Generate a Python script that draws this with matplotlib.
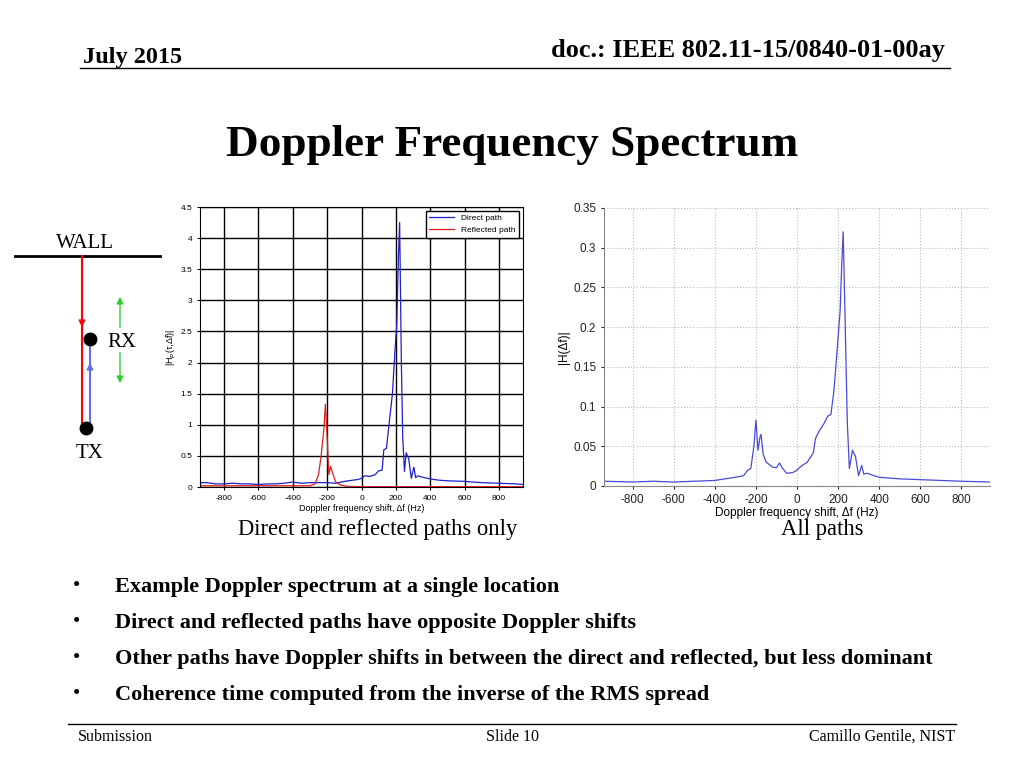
import matplotlib
matplotlib.use('Agg')
import matplotlib.pyplot as plt
from matplotlib.lines import Line2D
from matplotlib.patches import FancyArrowPatch

# Left chart: direct / reflected path spectra
direct_f = [-940, -900, -850, -800, -750, -700, -650, -600, -550, -500, -450, -400, -350, -300,
            -250, -200, -150, -100, -50, -20, 0, 20, 50, 80, 100, 120, 130, 145, 160, 180, 195,
            205, 215, 222, 232, 240, 250, 260, 275, 290, 305, 315, 330, 350, 400, 450, 500, 600,
            700, 800, 900, 940]
direct_h = [0.07, 0.07, 0.05, 0.05, 0.06, 0.05, 0.05, 0.04, 0.05, 0.05, 0.06, 0.08, 0.06, 0.07,
            0.07, 0.07, 0.06, 0.09, 0.11, 0.12, 0.14, 0.18, 0.17, 0.20, 0.26, 0.27, 0.60, 0.62,
            1.0, 1.5, 2.2, 2.6, 3.7, 4.25, 2.0, 0.8, 0.25, 0.55, 0.45, 0.14, 0.32, 0.15, 0.18,
            0.16, 0.13, 0.11, 0.10, 0.09, 0.07, 0.06, 0.05, 0.04]
refl_f = [-940, -600, -300, -270, -250, -235, -220, -210, -200, -190, -180, -165, -150, -120,
          -80, 0, 940]
refl_h = [0.02, 0.02, 0.02, 0.05, 0.2, 0.5, 0.9, 1.33, 0.8, 0.2, 0.33, 0.2, 0.08, 0.03, 0.01,
          0.005, 0.005]

# Right chart: all paths
all_f = [-940, -800, -700, -600, -500, -400, -300, -260, -240, -225, -210, -200, -190, -180,
         -175, -165, -150, -120, -100, -85, -70, -50, -20, 0, 20, 50, 80, 90, 110, 130, 150,
         165, 180, 195, 210, 218, 225, 235, 245, 255, 270, 285, 300, 315, 325, 340, 400, 500,
         600, 700, 800, 940]
all_h = [0.006, 0.005, 0.006, 0.005, 0.006, 0.007, 0.011, 0.013, 0.02, 0.022, 0.05, 0.083,
         0.045, 0.062, 0.065, 0.04, 0.03, 0.024, 0.023, 0.029, 0.022, 0.016, 0.017, 0.02, 0.025,
         0.03, 0.042, 0.06, 0.07, 0.078, 0.088, 0.09, 0.12, 0.17, 0.22, 0.28, 0.32, 0.2, 0.08,
         0.022, 0.045, 0.037, 0.013, 0.026, 0.015, 0.016, 0.011, 0.009, 0.008, 0.007, 0.006,
         0.005]

x_ticks = [-800, -600, -400, -200, 0, 200, 400, 600, 800]
bullets = ['Example Doppler spectrum at a single location',
           'Direct and reflected paths have opposite Doppler shifts',
           'Other paths have Doppler shifts in between the direct and reflected, but less dominant',
           'Coherence time computed from the inverse of the RMS spread']

plt.rcParams['axes.unicode_minus'] = False
plt.rcParams['font.family'] = 'Liberation Sans'
serif = 'Liberation Serif'
fig = plt.figure(figsize=(10.24, 7.68), dpi=100)
W, H = 1024, 768


def px(x, y):
    return x / W, 1 - y / H


# header / footer
fig.text(*px(83, 58), 'July 2015', fontfamily=serif, fontweight='bold', fontsize=17.5, va='center')
fig.text(*px(945, 50), 'doc.: IEEE 802.11-15/0840-01-00ay', fontfamily=serif, fontweight='bold',
         fontsize=19, ha='right', va='center')
fig.add_artist(Line2D([80 / W, 950 / W], [1 - 68 / H] * 2, color='black', lw=1))
fig.text(*px(512, 145), 'Doppler Frequency Spectrum', fontfamily=serif, fontweight='bold',
         fontsize=32.5, ha='center', va='center')
fig.add_artist(Line2D([68 / W, 956 / W], [1 - 724 / H] * 2, color='black', lw=1))
fig.text(*px(78, 737), 'Submission', fontfamily=serif, fontsize=11.5, va='center')
fig.text(*px(512, 737), 'Slide 10', fontfamily=serif, fontsize=11.5, ha='center', va='center')
fig.text(*px(955, 737), 'Camillo Gentile, NIST', fontfamily=serif, fontsize=11.5, ha='right', va='center')

# bullets
for i, b in enumerate(bullets):
    y = 587 + i * 36
    fig.text(*px(73, y), '\u2022', fontfamily=serif, fontsize=15, va='center')
    fig.text(*px(115, y), b, fontfamily=serif, fontweight='bold', fontsize=16, va='center')

fig.text(*px(378, 530), 'Direct and reflected paths only', fontfamily=serif, fontsize=16.3,
         ha='center', va='center')
fig.text(*px(822, 530), 'All paths', fontfamily=serif, fontsize=16.3, ha='center', va='center')

# scene diagram
fig.text(*px(85, 243), 'WALL', fontfamily=serif, fontsize=15, ha='center', va='center')
fig.add_artist(Line2D([15 / W, 160 / W], [1 - 256 / H] * 2, color='black', lw=2))
fig.add_artist(Line2D([82 / W, 82 / W], [1 - 256 / H, 1 - 428 / H], color='red', lw=1.5))
fig.add_artist(Line2D([90 / W, 90 / W], [1 - 340 / H, 1 - 428 / H], color='#6070e0', lw=1.5))
for (x0, y0, x1, y1, c) in [(82, 290, 82, 330, 'red'), (90, 400, 90, 360, '#6070e0'),
                            (120, 330, 120, 294, '#33cc33'), (120, 350, 120, 386, '#33cc33')]:
    fig.patches.append(FancyArrowPatch(px(x0, y0), px(x1, y1), arrowstyle='-|>',
                       mutation_scale=10, color=c, transform=fig.transFigure))
fig.add_artist(Line2D([90 / W], [1 - 339 / H], marker='o', color='black', ms=9))
fig.add_artist(Line2D([86 / W], [1 - 428 / H], marker='o', color='black', ms=9))
fig.text(*px(107, 343), 'RX', fontfamily=serif, fontsize=15, va='center')
fig.text(*px(90, 453), 'TX', fontfamily=serif, fontsize=15, ha='center', va='center')

# left chart
ax1 = fig.add_axes([200 / W, 1 - 487 / H, 323 / W, 280 / H])
ax1.plot(direct_f, direct_h, color='#1f1fcc', lw=0.9, label='Direct path')
ax1.plot(refl_f, refl_h, color='#e01f1f', lw=0.9, label='Reflected path')
ax1.set_xlim(-940, 940)
ax1.set_ylim(0, 4.5)
ax1.set_xticks(x_ticks)
ax1.set_yticks([0, 0.5, 1, 1.5, 2, 2.5, 3, 3.5, 4, 4.5])
ax1.set_yticklabels(['0', '0.5', '1', '1.5', '2', '2.5', '3', '3.5', '4', '4.5'])
ax1.grid(True, color='black', lw=1)
ax1.tick_params(labelsize=6, length=2)
ax1.set_xlabel('Doppler frequency shift, \u0394f (Hz)', fontsize=6.5, labelpad=2)
ax1.set_ylabel('|H$_p$(\u03c4,\u0394f)|', fontsize=6.5, labelpad=2)
ax1.legend(loc='upper right', fontsize=6, fancybox=False, framealpha=1, edgecolor='black',
           handlelength=3)

# right chart
ax2 = fig.add_axes([604 / W, 1 - 486 / H, 386 / W, 278 / H])
ax2.plot(all_f, all_h, color='#4a4ad8', lw=0.9)
ax2.set_xlim(-940, 940)
ax2.set_ylim(0, 0.35)
ax2.set_xticks(x_ticks)
ax2.set_yticks([0, 0.05, 0.1, 0.15, 0.2, 0.25, 0.3, 0.35])
ax2.set_yticklabels(['0', '0.05', '0.1', '0.15', '0.2', '0.25', '0.3', '0.35'])
ax2.grid(True, color='#bbbbbb', lw=0.8, ls=':')
ax2.spines['top'].set_visible(False)
ax2.spines['right'].set_visible(False)
ax2.spines['left'].set_color('#888888')
ax2.spines['bottom'].set_color('#888888')
ax2.tick_params(labelsize=8.5, length=2, colors='#222222')
ax2.set_xlabel('Doppler frequency shift, \u0394f (Hz)', fontsize=8.5, labelpad=1)
ax2.set_ylabel('|H(\u0394f)|', fontsize=8.5, labelpad=2)

fig.savefig('out.png', dpi=100)
